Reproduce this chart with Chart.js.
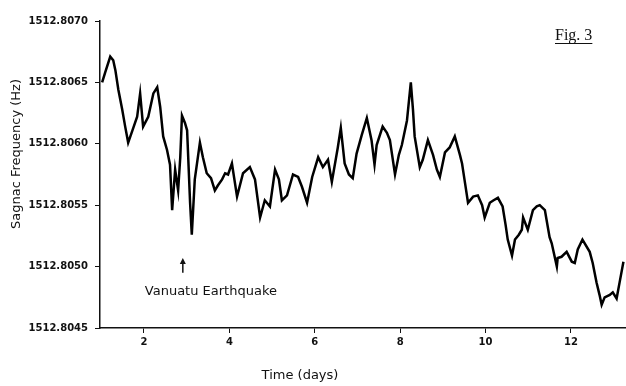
<!doctype html>
<html lang="en">
<head>
  <meta charset="utf-8">
  <title>Fig. 3 Sagnac Frequency</title>
  <style>
    * {
      margin: 0;
      padding: 0;
    }

    body {
      background: #fff;
      width: 626px;
      height: 386px;
      overflow: hidden;
    }
  </style>
</head>
<body>
<canvas id="myChart" width="626" height="386"></canvas>
<script src="https://cdn.jsdelivr.net/npm/chart.js"></script>
<script>
  // time in days
  const days = [
    1.02, 1.09, 1.21, 1.28, 1.33, 1.40, 1.49, 1.56, 1.63, 1.73,
    1.84, 1.91, 1.98, 2.10, 2.22, 2.31, 2.38, 2.45, 2.54, 2.61,
    2.66, 2.73, 2.80, 2.85, 2.89, 2.96, 3.01, 3.08, 3.12, 3.19,
    3.31, 3.38, 3.47, 3.57, 3.66, 3.73, 3.83, 3.90, 3.97, 4.06,
    4.18, 4.32, 4.48, 4.60, 4.72, 4.83, 4.95, 5.07, 5.16, 5.23,
    5.35, 5.49, 5.61, 5.70, 5.82, 5.94, 6.08, 6.19, 6.31, 6.40,
    6.54, 6.61, 6.70, 6.80, 6.89, 6.98, 7.10, 7.22, 7.33, 7.40,
    7.45, 7.59, 7.69, 7.76, 7.88, 7.97, 8.04, 8.16, 8.25, 8.30,
    8.34, 8.46, 8.53, 8.65, 8.77, 8.86, 8.93, 9.05, 9.16, 9.28,
    9.40, 9.45, 9.52, 9.59, 9.71, 9.82, 9.92, 9.98, 10.10, 10.19,
    10.29, 10.40, 10.47, 10.52, 10.62, 10.69, 10.78, 10.85, 10.88, 10.99,
    11.11, 11.20, 11.27, 11.39, 11.43, 11.50, 11.55, 11.67, 11.69, 11.78,
    11.90, 12.02, 12.09, 12.16, 12.27, 12.44, 12.51, 12.60, 12.67, 12.72,
    12.79, 12.91, 12.98, 13.07, 13.15, 13.23
  ];

  // Sagnac frequency (Hz)
  const freq = [
    1512.80650, 1512.80658, 1512.80671, 1512.80668, 1512.80660, 1512.80644, 1512.80628, 1512.80614, 1512.80601, 1512.80611,
    1512.80622, 1512.80641, 1512.80614, 1512.80622, 1512.80641, 1512.80646, 1512.80630, 1512.80606, 1512.80595, 1512.80583,
    1512.80546, 1512.80579, 1512.80562, 1512.80589, 1512.80623, 1512.80617, 1512.80611, 1512.80552, 1512.80526, 1512.80571,
    1512.80601, 1512.80589, 1512.80576, 1512.80572, 1512.80562, 1512.80566, 1512.80571, 1512.80576, 1512.80575, 1512.80584,
    1512.80557, 1512.80576, 1512.80581, 1512.80571, 1512.80540, 1512.80554, 1512.80549, 1512.80579, 1512.80571, 1512.80554,
    1512.80558, 1512.80575, 1512.80573, 1512.80565, 1512.80552, 1512.80573, 1512.80589, 1512.80581, 1512.80587, 1512.80569,
    1512.80597, 1512.80613, 1512.80584, 1512.80575, 1512.80572, 1512.80592, 1512.80607, 1512.80621, 1512.80603, 1512.80583,
    1512.80599, 1512.80614, 1512.80609, 1512.80603, 1512.80575, 1512.80591, 1512.80599, 1512.80619, 1512.80650, 1512.80628,
    1512.80606, 1512.80581, 1512.80587, 1512.80603, 1512.80591, 1512.80579, 1512.80573, 1512.80593, 1512.80597, 1512.80606,
    1512.80591, 1512.80584, 1512.80568, 1512.80552, 1512.80557, 1512.80558, 1512.80550, 1512.80540, 1512.80552, 1512.80554,
    1512.80556, 1512.80549, 1512.80534, 1512.80522, 1512.80509, 1512.80522, 1512.80526, 1512.80530, 1512.80540, 1512.80530,
    1512.80546, 1512.80549, 1512.80550, 1512.80546, 1512.80538, 1512.80524, 1512.80519, 1512.80500, 1512.80507, 1512.80508,
    1512.80512, 1512.80504, 1512.80503, 1512.80514, 1512.80522, 1512.80512, 1512.80503, 1512.80487, 1512.80477, 1512.80469,
    1512.80475, 1512.80477, 1512.80479, 1512.80474, 1512.80489, 1512.80504
  ];

  const xTicks = [2, 4, 6, 8, 10, 12];
  const yTicks = [1512.8045, 1512.8050, 1512.8055, 1512.8060, 1512.8065, 1512.8070];

  // annotation: earthquake marker
  const quakeDay = 2.91;
  const quakeArrow = [1512.80507, 1512.80495];
  const quakeLabel = 'Vanuatu Earthquake';

  const sansFont = "'DejaVu Sans', sans-serif";

  // extra texts drawn on the canvas
  const textPlugin = {
    id: 'texts',
    afterDraw(chart) {
      const ctx = chart.ctx;
      const x = chart.scales.x;
      const y = chart.scales.y;
      ctx.save();
      ctx.fillStyle = '#111';
      ctx.strokeStyle = '#111';

      // y axis title
      ctx.save();
      ctx.translate(17, 154);
      ctx.rotate(-Math.PI / 2);
      ctx.font = '13px ' + sansFont;
      ctx.textAlign = 'center';
      ctx.textBaseline = 'middle';
      ctx.fillText('Sagnac Frequency (Hz)', 0, 0);
      ctx.restore();

      // x axis title
      ctx.font = '13px ' + sansFont;
      ctx.textAlign = 'center';
      ctx.textBaseline = 'middle';
      ctx.fillText('Time (days)', 300, 376);

      // Fig. 3
      ctx.font = '16px "Liberation Serif", serif';
      ctx.textAlign = 'left';
      ctx.textBaseline = 'alphabetic';
      ctx.fillText('Fig. 3', 555, 40);
      const w = ctx.measureText('Fig. 3').width;
      ctx.lineWidth = 1;
      ctx.beginPath();
      ctx.moveTo(555, 43.5);
      ctx.lineTo(555 + w, 43.5);
      ctx.stroke();

      // arrow + label
      const ax = x.getPixelForValue(quakeDay);
      const top = y.getPixelForValue(quakeArrow[0]);
      const bot = y.getPixelForValue(quakeArrow[1]);
      ctx.lineWidth = 1.5;
      ctx.beginPath();
      ctx.moveTo(ax, bot);
      ctx.lineTo(ax, top + 3);
      ctx.stroke();
      ctx.beginPath();
      ctx.moveTo(ax, top);
      ctx.lineTo(ax - 3, top + 6);
      ctx.lineTo(ax + 3, top + 6);
      ctx.closePath();
      ctx.fill();

      ctx.font = '13px ' + sansFont;
      ctx.textAlign = 'left';
      ctx.textBaseline = 'middle';
      ctx.fillText(quakeLabel, ax - 38, bot + 19);
      ctx.restore();
    }
  };

  const data = {
    datasets: [{
      data: days.map((d, i) => ({x: d, y: freq[i]})),
      borderColor: '#000',
      borderWidth: 2.5,
      pointRadius: 0,
      tension: 0,
      fill: false
    }]
  };

  const config = {
    type: 'line',
    data,
    plugins: [textPlugin],
    options: {
      responsive: false,
      animation: false,
      layout: {
        padding: {top: 21, right: 0, bottom: 0, left: 0}
      },
      plugins: {
        legend: {display: false},
        tooltip: {enabled: false}
      },
      scales: {
        x: {
          type: 'linear',
          min: 0.97,
          max: 13.29,
          afterBuildTicks: (scale) => {
            scale.ticks = xTicks.map(v => ({value: v}));
          },
          afterFit: (scale) => {
            scale.height = 58;
          },
          border: {display: true, color: '#111', width: 1.5},
          grid: {drawOnChartArea: false, drawTicks: true, tickLength: 5, color: '#111'},
          ticks: {
            color: '#111',
            padding: 3,
            font: {family: sansFont, size: 10, weight: 'bold'},
            maxRotation: 0
          }
        },
        y: {
          min: 1512.8045,
          max: 1512.8070,
          afterBuildTicks: (scale) => {
            scale.ticks = yTicks.map(v => ({value: v}));
          },
          afterFit: (scale) => {
            scale.width = 100;
          },
          border: {display: true, color: '#111', width: 1.5},
          grid: {drawOnChartArea: false, drawTicks: true, tickLength: 5, color: '#111'},
          ticks: {
            color: '#111',
            padding: 7,
            font: {family: sansFont, size: 10, weight: 'bold'},
            callback: (v) => Number(v).toFixed(4)
          }
        }
      }
    }
  };

  const myChart = new Chart(
    document.getElementById('myChart'),
    config
  );
</script>
</body>
</html>
